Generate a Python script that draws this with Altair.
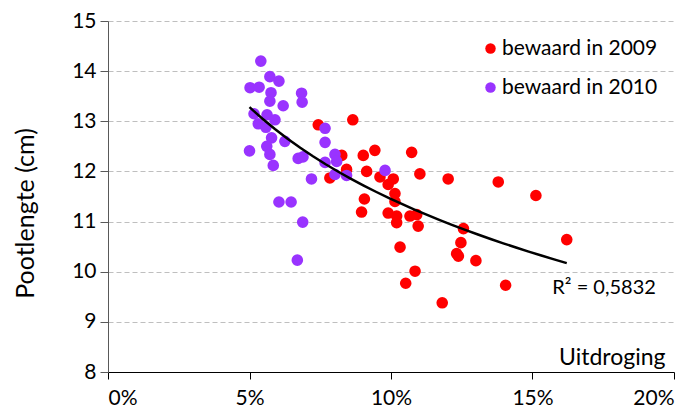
import altair as alt
import pandas as pd

# Data (x in %, y in cm)
x2009 = [7.43, 8.65, 8.26, 9.02, 9.43, 10.73, 8.43, 7.84, 9.14, 9.61, 10.08, 9.90, 11.02, 12.02,
         10.14, 10.14, 9.06, 8.96, 9.90, 10.20, 10.20, 10.67, 10.91, 10.96, 12.56, 12.47, 12.32,
         12.38, 13.00, 10.32, 10.85, 10.52, 11.81, 13.79, 15.12, 16.21, 14.05]
y2009 = [12.93, 13.03, 12.32, 12.32, 12.42, 12.38, 12.04, 11.87, 12.00, 11.89, 11.85, 11.74, 11.95, 11.85,
         11.56, 11.40, 11.45, 11.19, 11.17, 11.11, 10.98, 11.11, 11.14, 10.91, 10.86, 10.58, 10.36,
         10.31, 10.22, 10.49, 10.01, 9.77, 9.38, 11.79, 11.52, 10.64, 9.73]
x2010 = [5.40, 5.72, 6.04, 5.02, 5.34, 5.76, 6.84, 6.86, 5.72, 6.19, 5.16, 5.62, 5.90, 5.31, 5.58,
         5.78, 6.25, 5.61, 5.00, 5.72, 5.84, 6.72, 6.89, 7.67, 7.67, 8.02, 7.67, 8.08, 7.19, 8.43,
         8.02, 6.04, 6.47, 6.88, 6.69, 9.79]
y2010 = [14.20, 13.89, 13.80, 13.67, 13.68, 13.57, 13.56, 13.38, 13.40, 13.31, 13.15, 13.13, 13.03, 12.95, 12.88,
         12.67, 12.60, 12.50, 12.41, 12.34, 12.12, 12.26, 12.29, 12.86, 12.58, 12.34, 12.18, 12.20, 11.85, 11.92,
         11.94, 11.39, 11.39, 10.99, 10.23, 12.02]

series_names = ["bewaard in 2009", "bewaard in 2010"]
series_colors = ["#FF0000", "#9933FF"]
x_ticks = [0, 0.05, 0.10, 0.15, 0.20]
y_ticks = [8, 9, 10, 11, 12, 13, 14, 15]
r2_label = "R² = 0,5832"
r2_pos = (15.7, 9.68)

rows = []
for xv, yv in zip(x2009, y2009):
    rows.append({"x": xv / 100, "y": yv, "series": series_names[0]})
for xv, yv in zip(x2010, y2010):
    rows.append({"x": xv / 100, "y": yv, "series": series_names[1]})
df = pd.DataFrame(rows)

FONT = "Lato"

xenc = alt.X("x:Q", scale=alt.Scale(domain=[0, 0.2], nice=False),
             axis=alt.Axis(values=x_ticks, format=".0%", grid=False, title="Uitdroging",
                           titleX=557, titleY=-8, titleAlign="right", titleBaseline="alphabetic",
                           titleFontSize=23,
                           tickSize=7, labelPadding=8, domainColor="#000000", tickColor="#000000"))
yenc = alt.Y("y:Q", scale=alt.Scale(domain=[8, 15], nice=False, zero=False),
             axis=alt.Axis(values=y_ticks, grid=True, gridDash=[5, 3], gridColor="#BFBFBF",
                           title="Pootlengte (cm)", titleX=-83, titleY=192, titleAngle=-90,
                           titleAlign="center", titleBaseline="middle", titleFontSize=25,
                           tickSize=8, labelPadding=4, domainColor="#595959", tickColor="#595959"))

base = alt.Chart(df)

points = base.mark_circle(size=135, opacity=1).encode(
    x=xenc, y=yenc,
    color=alt.Color("series:N",
                    scale=alt.Scale(domain=series_names, range=series_colors),
                    legend=alt.Legend(title=None, orient="none", legendX=372, legendY=17,
                                      symbolType="circle", symbolSize=110, symbolStrokeWidth=0,
                                      symbolOpacity=1, labelFontSize=21, labelFont=FONT,
                                      labelColor="#000000", rowPadding=17, labelOffset=1,
                                      padding=0)),
)

trend = base.transform_regression("x", "y", method="log").mark_line(
    color="#000000", strokeWidth=2.5
).encode(x="x:Q", y="y:Q")

ann = alt.Chart(pd.DataFrame({"x": [r2_pos[0] / 100], "y": [r2_pos[1]], "t": [r2_label]})).mark_text(
    align="left", baseline="middle", fontSize=20, font=FONT, color="#000000"
).encode(x="x:Q", y="y:Q", text="t:N")

chart = alt.layer(points, trend, ann).properties(
    width=566, height=351,
    autosize=alt.AutoSizeParams(type="none"),
    padding={"left": 100, "top": 13, "right": 15, "bottom": 37},
).configure_view(stroke=None).configure_axis(
    labelFont=FONT, labelFontSize=21, labelColor="#000000",
    titleFont=FONT, titleFontWeight="normal", titleColor="#000000",
)

chart.save("out.html", embed_options={"renderer": "svg", "actions": False})
